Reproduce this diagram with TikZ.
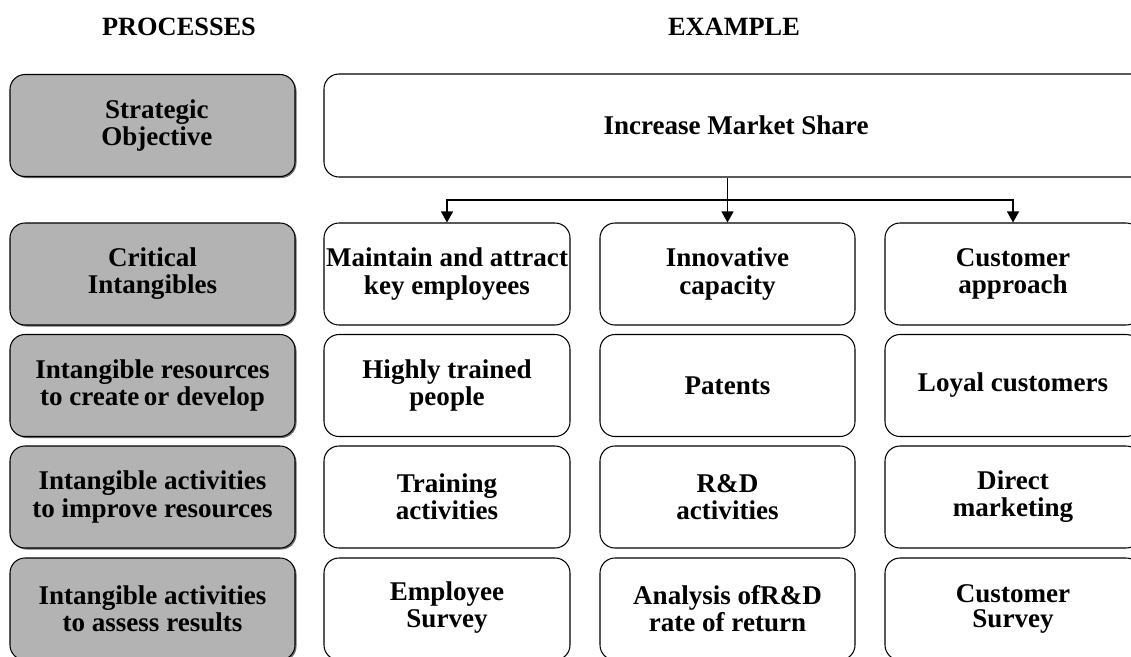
\documentclass[tikz,border=0pt]{standalone}
\usepackage{fontspec}
\setmainfont{Liberation Serif}
\usetikzlibrary{arrows.meta,shadows}
\definecolor{boxgray}{RGB}{179,179,179}
\definecolor{shadowgray}{RGB}{110,110,110}
\tikzset{
  base/.style={draw=black, line width=0.6pt, rounded corners=0.3cm, inner sep=0pt,
    align=center, font=\fontsize{15.4}{15.4}\selectfont\bfseries},
  procbox/.style={base, fill=boxgray, minimum width=285*0.02cm, minimum height=102*0.02cm,
    drop shadow={shadow xshift=0.03cm, shadow yshift=-0.03cm, fill=shadowgray, opacity=1}},
  exbox/.style={base, fill=white, minimum width=246*0.02cm, minimum height=102*0.02cm},
  headtxt/.style={font=\fontsize{15}{15}\selectfont\bfseries, inner sep=0pt, anchor=base},
  arr/.style={line width=0.6pt, -{Triangle[length=0.22cm,width=0.24cm]}}
}
\begin{document}
\begin{tikzpicture}[x=0.02cm,y=-0.02cm]
\useasboundingbox[fill=white] (0,0) rectangle (1131,656);
% headers
\node[headtxt] (hp) at (179,35) {PROCESSES};
\node[headtxt] (he) at (734,35) {EXAMPLE};
% process column
\node[procbox] (p0) at (152.5,125.5) {\hspace*{5pt}Strategic\\\hspace*{5pt}Objective};
\node[procbox] (p1) at (152.5,274) {Critical\\Intangibles};
\node[procbox] (p2) at (152.5,385.5) {Intangible resources\\to create\,or develop};
\node[procbox] (p3) at (152.5,497) {Intangible activities\\to improve resources};
\node[procbox] (p4) at (152.5,609) {Intangible activities\\to assess results};
% objective
\node[base, fill=white, minimum width=824*0.02cm, minimum height=103*0.02cm] (inc) at (736,125.5) {Increase Market Share};
% column 1
\node[exbox] (a1) at (447,274) {Maintain and attract\\key employees};
\node[exbox] (a2) at (447,385.5) {Highly trained\\people};
\node[exbox] (a3) at (447,497) {Training\\activities};
\node[exbox] (a4) at (447,609) {\raisebox{5pt}{\begin{tabular}{@{}c@{}}Employee\\Survey\end{tabular}}};
% column 2
\node[exbox, minimum width=255*0.02cm] (b1) at (727.5,274) {Innovative\\capacity};
\node[exbox, minimum width=255*0.02cm] (b2) at (727.5,385.5) {Patents};
\node[exbox, minimum width=255*0.02cm] (b3) at (727.5,497) {R\&D\\activities};
\node[exbox, minimum width=255*0.02cm] (b4) at (727.5,609) {Analysis ofR\&D\\rate of return};
% column 3
\node[exbox, minimum width=256*0.02cm] (c1) at (1013,274) {Customer\\approach};
\node[exbox, minimum width=256*0.02cm] (c2) at (1013,385.5) {Loyal customers};
\node[exbox, minimum width=256*0.02cm] (c3) at (1013,497) {Direct\\marketing};
\node[exbox, minimum width=256*0.02cm, font=\fontsize{15.4}{14}\selectfont\bfseries] (c4) at (1013,609) {Customer\\Survey};
% connectors
\coordinate (j) at (b1.north |- 0,200);
\draw[line width=0.6pt] (b1.north |- inc.south) -- (j);
\draw[arr] (j) -- (b1.north);
\draw[arr] (j) -| (a1.north);
\draw[arr] (j) -| (c1.north);
\end{tikzpicture}
\end{document}
